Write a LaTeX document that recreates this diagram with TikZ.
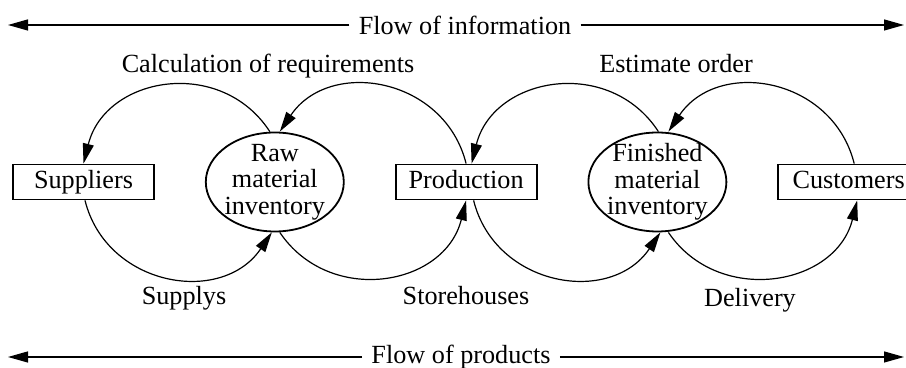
\documentclass[tikz,border=0pt]{standalone}
\usepackage{fontspec}
\setmainfont{Liberation Serif}
\usetikzlibrary{shapes.geometric, arrows.meta, positioning}
\tikzset{
    block_box/.style={rectangle, draw, line width=0.9pt, minimum width=70.5pt, minimum height=17.5pt, inner sep=0pt, text height=9pt, text depth=2.5pt},
    block_stock/.style={ellipse, draw, line width=0.9pt, minimum width=69pt, minimum height=49.5pt, inner sep=-3pt, align=center},
    arrow/.style={-{Triangle[length=10pt, width=5.5pt]}, line width=0.6pt},
    flow_label/.style={inner xsep=4.5pt, inner ysep=0pt}
}
\begin{document}
\begin{tikzpicture}[x=0.5pt, y=0.5pt, node distance=25pt, font=\fontsize{13.1}{13.2}\selectfont]
    \useasboundingbox (0,0) rectangle (906,368);
    \node (sup) [block_box] at (83.5,186) {Suppliers};
    \node (raw) [block_stock, right=of sup] {Raw\\material\\inventory};
    \node (prod) [block_box, right=of raw] {Production};
    \node (fin) [block_stock, right=of prod] {Finished\\material\\inventory};
    \node (cust) [block_box, right=of fin] {Customers};

    \node (info) [flow_label] at (465,343) {Flow of information};
    \coordinate (infoL) at (8,343);
    \coordinate (infoR) at (904,343);
    \draw [arrow] (info) -- (infoL);
    \draw [arrow] (info) -- (infoR);

    \node (prods) [flow_label] at (461,11) {Flow of products};
    \coordinate (prodsL) at (8,11);
    \coordinate (prodsR) at (904,11);
    \draw [arrow] (prods) -- (prodsL);
    \draw [arrow] (prods) -- (prodsR);

    \node (calc) [anchor=base] at (268,295) {Calculation of requirements};
    \node (est) [anchor=base] at (676,295) {Estimate order};
    \node (supl) [anchor=base] at (184,63) {Supplys};
    \node (store) [anchor=base] at (466,63) {Storehouses};
    \node (deli) [anchor=base] at (750,61) {Delivery};

    \draw [arrow] ([xshift=-2.5pt]raw.north) .. controls +(123:90) and +(76:90) .. (sup.north);
    \draw [arrow] (prod.north) .. controls +(104:89) and +(56:89) .. ([xshift=2.5pt]raw.north);
    \draw [arrow] ([xshift=0.5pt]fin.north) .. controls +(123:90) and +(76:90) .. ([xshift=2.75pt]prod.north);
    \draw [arrow] ([xshift=2.75pt]cust.north) .. controls +(104:89) and +(56:89) .. ([xshift=5.5pt]fin.north);

    \draw [arrow] ([xshift=0.75pt]sup.south) .. controls +(284:89) and +(236:89) .. ([xshift=-1.5pt]raw.south);
    \draw [arrow] ([xshift=2.5pt]raw.south) .. controls +(304:89) and +(256:89) .. (prod.south);
    \draw [arrow] ([xshift=3.75pt]prod.south) .. controls +(284:89) and +(236:89) .. ([xshift=1.5pt]fin.south);
    \draw [arrow] ([xshift=5.5pt]fin.south) .. controls +(304:89) and +(256:89) .. ([xshift=4.25pt]cust.south);
\end{tikzpicture}
\end{document}
